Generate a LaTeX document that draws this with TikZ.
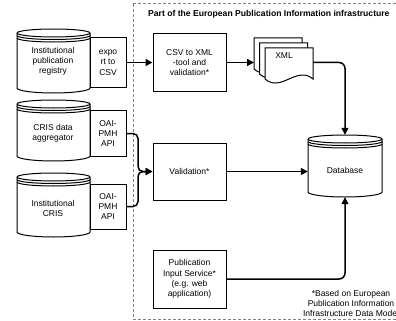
\documentclass[tikz,border=0pt]{standalone}
\usepackage{fontspec}
\setmainfont{Liberation Sans}
\usetikzlibrary{arrows.meta}
\definecolor{framegray}{HTML}{808080}
\tikzset{
  shapeline/.style={draw=black, line width=1pt, fill=white},
  txt/.style={align=center, font=\fontsize{8.5}{10.3}\selectfont, inner sep=0pt},
  boxn/.style={shapeline, txt},
  conn/.style={line width=1.5pt, -{Triangle[length=7pt,width=7pt]}},
  frame/.style={draw=framegray, line width=1pt, dash pattern=on 3pt off 2pt},
}
\newcommand\dstore[4]{%
  \pgfmathsetmacro\dsw{(#3-#1)/2}%
  \draw[shapeline] (#1,#2+4) arc[start angle=180,end angle=0,x radius=\dsw pt,y radius=4pt]
     -- (#3,#4-5) arc[start angle=0,end angle=-180,x radius=\dsw pt,y radius=5pt] -- cycle;
  \foreach \o in {0,2.5,5} {\draw[shapeline, fill=none] (#1,#2+4+\o) arc[start angle=180,end angle=360,x radius=\dsw pt,y radius=4pt];}
}
\newcommand\docsh[4]{% x1 y1 x2 ybottom
  \pgfmathsetmacro\dwa{#1+(#3-#1)/3}%
  \pgfmathsetmacro\dwb{#3-(#3-#1)/3}%
  \draw[shapeline] (#1,#2) -- (#3,#2) -- (#3,#4) .. controls (\dwb,#4-14) and (\dwa,#4+14) .. (#1,#4) -- cycle;
}
\begin{document}
\begin{tikzpicture}[x=1pt,y=-1pt]
\useasboundingbox (0,0) rectangle (396,321);
\clip (0,0) rectangle (396,321);
% frame
\draw[frame] (133,4) rectangle (402,319);
\node[txt, anchor=base west, font=\fontsize{8.6}{10.3}\selectfont\bfseries] (title) at (148,17) {Part of the European Publication Information infrastructure};
% sources
\dstore{17}{29}{90}{93}
\node[txt] (c1) at (53,61.5) {Institutional\\publication\\registry};
\node[boxn, minimum width=36pt, minimum height=49pt] (exp) at (108,62.5) {expo\\rt to\\CSV};
\dstore{17}{100}{90}{161}
\node[txt] (c2) at (53,133.5) {CRIS data\\aggregator};
\node[boxn, minimum width=36pt, minimum height=46pt] (oaiA) at (108,133.5) {OAI-\\PMH\\API};
\dstore{17}{173}{90}{237}
\node[txt] (c3) at (53,208.5) {Institutional\\CRIS};
\node[boxn, minimum width=36pt, minimum height=45pt] (oaiB) at (108,206.5) {OAI-\\PMH\\API};
% processing
\node[boxn, minimum width=73pt, minimum height=57pt] (csv) at (189.5,62.5) {CSV to XML\\-tool and\\validation*};
\node[boxn, minimum width=73pt, minimum height=57pt] (valid) at (189.5,171.5) {Validation*};
\node[boxn, minimum width=73pt, minimum height=58pt] (pis) at (189.5,279) {Publication\\Input Service*\\(e.g. web\\application)};
% XML documents
\docsh{254}{38}{302}{69}
\docsh{259.5}{43}{307.5}{74}
\docsh{265}{48}{313}{79}
\node[txt] (xml) at (284,56) {XML};
\coordinate (xmlin) at (254,62.5);
\coordinate (xmlout) at (313,62.5);
% database
\dstore{308}{135}{382}{197}
\node[minimum width=74pt, minimum height=62pt, inner sep=0pt] (db) at (345,166) {};
\node[txt] (dbt) at (345,170) {Database};
% footnote (cut at the right edge, as in the reference)
\node[txt, anchor=north] (foot) at (351,290) {*Based on European\\Publication Information\\Infrastructure Data Model};
% connectors
\draw[conn] (exp.east) -- (csv.west);
\draw[conn] (csv.east) -- (xmlin);
\draw[conn, rounded corners=6pt] (xmlout) -| (db.north);
\coordinate (mrg) at (138,171.5);
\draw[conn, rounded corners=5pt] (oaiA.east) -| (mrg) -- (valid.west);
\draw[conn, rounded corners=5pt] (oaiB.east) -| (mrg) -- (valid.west);
\draw[conn] (valid.east) -- (valid.east -| db.west);
\draw[conn, rounded corners=6pt] (pis.east) -| (db.south);
\end{tikzpicture}
\end{document}
